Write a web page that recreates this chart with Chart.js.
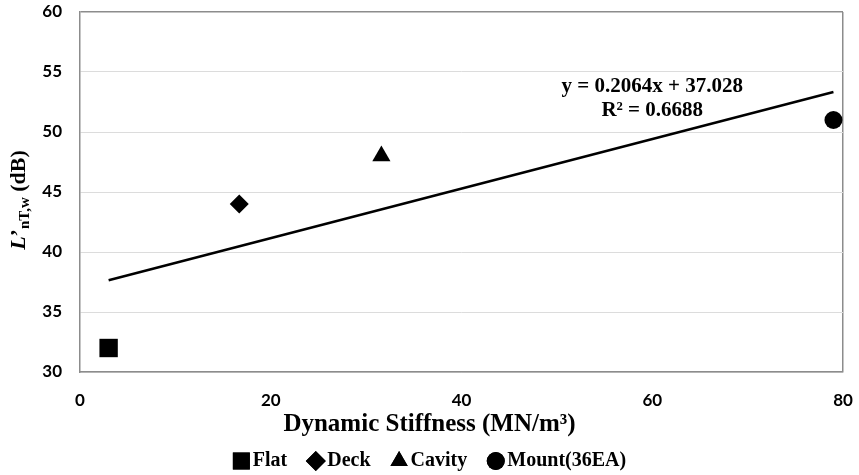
<!DOCTYPE html>
<html>
<head>
<meta charset="utf-8">
<script src="https://cdn.jsdelivr.net/npm/chart.js@4/dist/chart.umd.min.js"></script>
<style>
  html, body { margin: 0; padding: 0; background: #fff; }
  #wrap { width: 859px; height: 475px; }
</style>
</head>
<body>
<div id="wrap"><canvas id="chart"></canvas></div>
<script>
// data
const seriesNames = ['Flat', 'Deck', 'Cavity', 'Mount(36EA)'];
const stiffness = [3, 16.7, 31.6, 79];       // MN/m3
const levels = [32, 44, 48, 51];             // dB
const markers = ['rect', 'rectRot', 'triangle', 'circle'];
const markerSizes = [13, 9.5, 10.5, 9];

// linear trendline as printed on the chart
const trendSlope = 0.2064;
const trendIntercept = 37.028;
const trendRange = [3, 79];
const trendLabel = ['y = 0.2064x + 37.028', 'R\u00B2 = 0.6688'];

const xTicks = [0, 20, 40, 60, 80];
const yTicks = [30, 35, 40, 45, 50, 55, 60];
const xTitle = 'Dynamic Stiffness (MN/m\u00B3)';

const serif = '"Liberation Serif", "Times New Roman", serif';
const sans = 'Lato, "Liberation Sans", sans-serif';

const datasets = seriesNames.map((name, i) => ({
    label: name,
    data: [{ x: stiffness[i], y: levels[i] }],
    pointStyle: markers[i],
    pointRadius: markerSizes[i],
    pointHoverRadius: markerSizes[i],
    backgroundColor: '#000',
    borderColor: '#000',
    borderWidth: 0
}));

datasets.push({
    type: 'line',
    label: 'trend',
    data: trendRange.map(x => ({ x: x, y: trendSlope * x + trendIntercept })),
    borderColor: '#000',
    borderWidth: 2.5,
    pointRadius: 0,
    fill: false
});

// axis titles, trendline equation, compact legend
const extraText = {
    id: 'extraText',
    afterDraw(chart) {
        const ctx = chart.ctx;
        const xs = chart.scales.x, ys = chart.scales.y;

        // equation
        ctx.save();
        ctx.fillStyle = '#000';
        ctx.textAlign = 'center';
        ctx.textBaseline = 'middle';
        ctx.font = 'bold 21px ' + serif;
        ctx.fillText(trendLabel[0], xs.getPixelForValue(60), ys.getPixelForValue(53.8));
        ctx.fillText(trendLabel[1], xs.getPixelForValue(60), ys.getPixelForValue(51.8));

        // x axis title, centred on the whole figure like the original
        ctx.font = 'bold 25px ' + serif;
        ctx.fillText(xTitle, chart.width / 2, 425);
        ctx.restore();

        // y axis title
        const parts = [
            { t: 'L', f: 'italic bold 22px ' + serif, dy: 0 },
            { t: '\u2019', f: 'bold 22px ' + serif, dy: 0 },
            { t: 'nT,w', f: 'bold 15px ' + serif, dy: 6 },
            { t: ' (dB)', f: 'bold 22px ' + serif, dy: 0 }
        ];
        ctx.save();
        ctx.translate(19, 200);
        ctx.rotate(-Math.PI / 2);
        ctx.fillStyle = '#000';
        ctx.textBaseline = 'middle';
        ctx.textAlign = 'left';
        let total = 0;
        parts.forEach(p => { ctx.font = p.f; p.w = ctx.measureText(p.t).width; total += p.w; });
        let cx = -total / 2;
        parts.forEach(p => {
            ctx.font = p.f;
            ctx.fillText(p.t, cx, p.dy);
            cx += p.w;
        });
        ctx.restore();

        // legend (marker close to its text, like the original)
        const legendY = 461;
        const box = 17, gapIn = 3, gapOut = 20;
        ctx.save();
        ctx.font = 'bold 20px ' + serif;
        const widths = seriesNames.map(n => box + gapIn + ctx.measureText(n).width);
        const full = widths.reduce((a, b) => a + b, 0) + gapOut * (seriesNames.length - 1);
        let lx = chart.width / 2 - full / 2;
        ctx.fillStyle = '#000';
        ctx.textBaseline = 'middle';
        ctx.textAlign = 'left';
        seriesNames.forEach((n, i) => {
            Chart.helpers.drawPoint(ctx, {
                pointStyle: markers[i],
                radius: markers[i] === 'rect' ? 12 : (markers[i] === 'circle' ? 9 : 10),
                borderWidth: 0,
                rotation: 0
            }, lx + box / 2, legendY);
            ctx.fill();
            ctx.fillText(n, lx + box + gapIn, legendY);
            lx += widths[i] + gapOut;
        });
        ctx.restore();
    }
};

new Chart(document.getElementById('chart'), {
    type: 'scatter',
    data: { datasets: datasets },
    options: {
        responsive: true,
        maintainAspectRatio: false,
        animation: false,
        layout: { autoPadding: false, padding: { top: 12, right: 16, left: 0, bottom: 37 } },
        plugins: {
            legend: { display: false },
            tooltip: { enabled: false }
        },
        scales: {
            x: {
                type: 'linear',
                min: 0,
                max: 80,
                afterBuildTicks: axis => { axis.ticks = xTicks.map(v => ({ value: v })); },
                afterFit: axis => { axis.height = 66; },
                grid: {
                    drawTicks: true,
                    tickLength: 18,
                    tickColor: 'rgba(0,0,0,0)',
                    color: c => (c.tick && c.tick.value === 80) ? '#8c8c8c' : 'rgba(0,0,0,0)',
                    lineWidth: 1.5
                },
                border: { color: '#8c8c8c', width: 1.5 },
                ticks: {
                    padding: 0,
                    color: '#000',
                    font: { family: sans, size: 17, weight: 'bold' }
                }
            },
            y: {
                type: 'linear',
                min: 30,
                max: 60,
                afterBuildTicks: axis => { axis.ticks = yTicks.map(v => ({ value: v })); },
                afterFit: axis => { axis.width = 80; },
                grid: {
                    drawTicks: true,
                    tickLength: 18,
                    tickColor: 'rgba(0,0,0,0)',
                    color: c => (c.tick && c.tick.value === 60) ? '#8c8c8c' : '#dcdcdc',
                    lineWidth: c => (c.tick && c.tick.value === 60) ? 1.5 : 1
                },
                border: { color: '#8c8c8c', width: 1.5 },
                ticks: {
                    padding: 0,
                    color: '#000',
                    font: { family: sans, size: 17, weight: 'bold' }
                }
            }
        }
    },
    plugins: [extraText]
});
</script>
</body>
</html>
